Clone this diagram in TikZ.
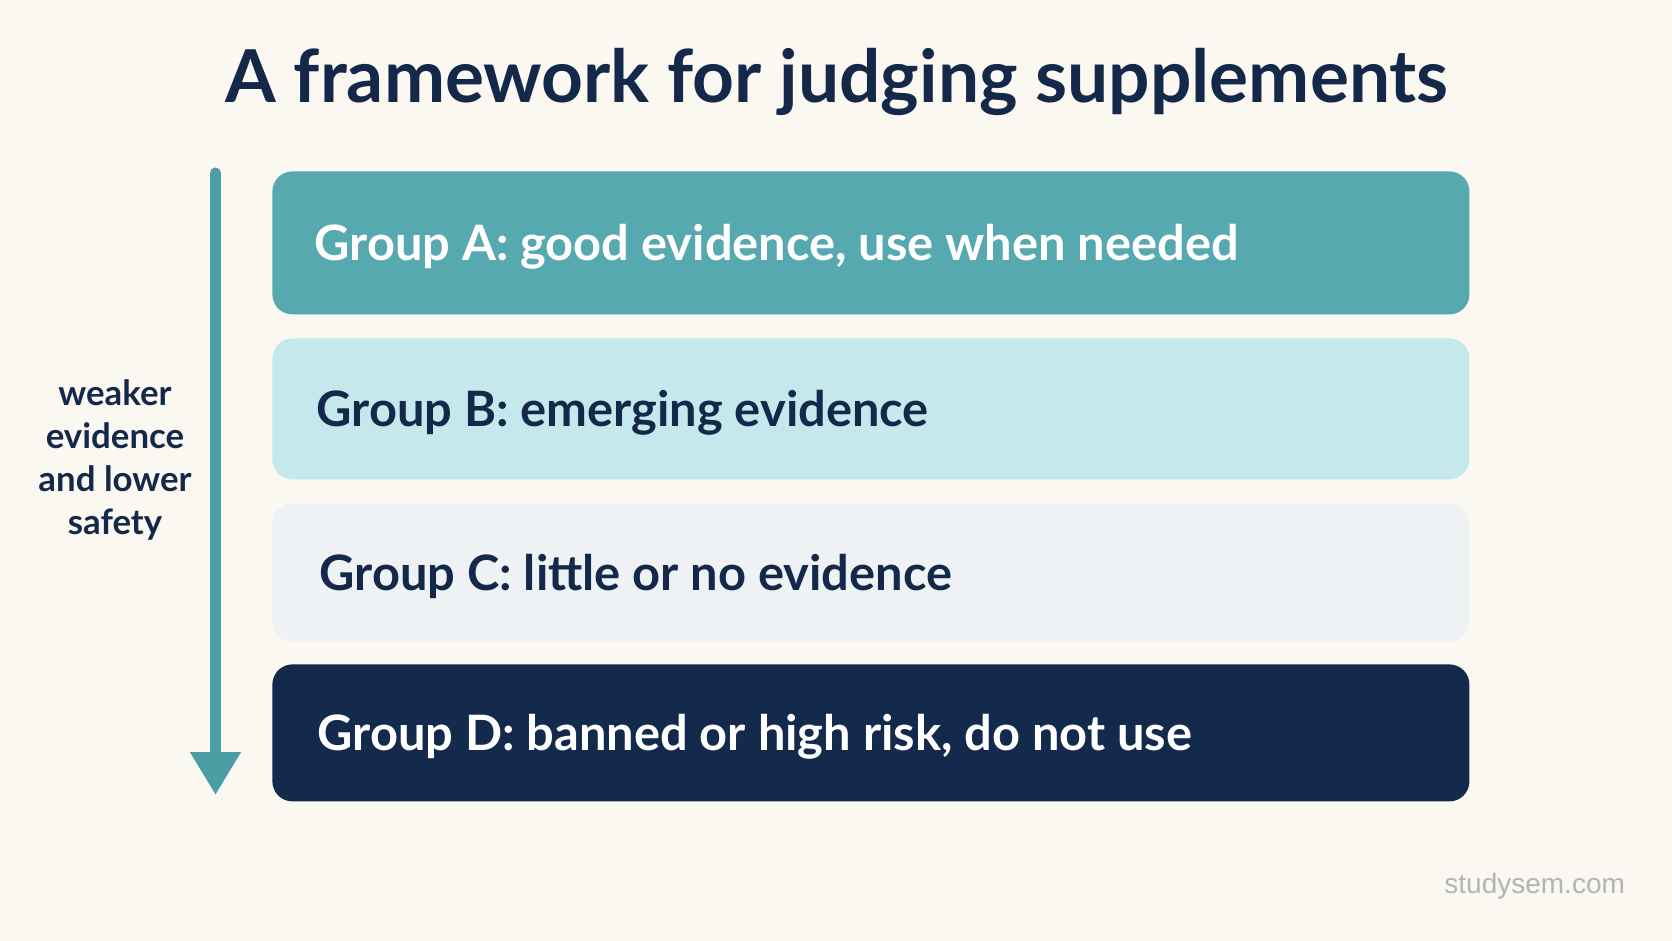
\documentclass[tikz,border=0pt]{standalone}
\usepackage{fontspec}
\setmainfont{Lato}
\newfontfamily\wmfont{Liberation Sans}
\usetikzlibrary{arrows.meta}
\definecolor{bgc}{HTML}{FBF8F1}
\definecolor{navy}{HTML}{14294A}
\definecolor{teal}{HTML}{55A9AF}
\definecolor{lightteal}{HTML}{C5E8EC}
\definecolor{pale}{HTML}{EEF2F5}
\definecolor{dark}{HTML}{132A4C}
\definecolor{arrowc}{HTML}{4A9EA4}
\definecolor{wmgray}{HTML}{B0B5BA}
\tikzset{
  groupbox/.style={rectangle, rounded corners=10pt, draw=none, anchor=north west,
    minimum width=598.5pt, inner sep=0pt},
  grouptext/.style={anchor=base west, inner sep=0pt, font=\fontsize{24.4}{30}\selectfont\bfseries},
  sidelabel/.style={align=center, inner sep=0pt, text=navy,
    font=\fontsize{17.4}{21.5}\selectfont\bfseries},
}
\begin{document}
\begin{tikzpicture}[x=0.5pt,y=-0.5pt]
\fill[bgc] (0,0) rectangle (1672,941);
\useasboundingbox (0,0) rectangle (1672,941);
% title
\node[anchor=base, inner sep=0pt, text=navy, font=\fontsize{36.5}{44}\selectfont\bfseries] (title) at (837,103) {A framework for judging supplements};
% boxes
\node[groupbox, fill=teal, minimum height=71.5pt] (ga) at (272,171) {};
\node[groupbox, fill=lightteal, minimum height=70.5pt] (gb) at (272,338) {};
\node[groupbox, fill=pale, minimum height=69pt] (gc) at (272,503) {};
\node[groupbox, fill=dark, minimum height=68.5pt] (gd) at (272,664) {};
\node[grouptext, text=white] (ta) at (314,260.5) {Group A: good evidence, use when needed};
\node[grouptext, text=navy] (tb) at (316,426.5) {Group B: emerging evidence};
\node[grouptext, text=navy] (tc) at (319,590) {Group C: little or no evidence};
\node[grouptext, text=white] (td) at (317,750.5) {Group D: banned or high risk, do not use};
% arrow
\coordinate (arrtop) at (215.5,173);
\coordinate (arrtip) at (215.5,795);
\draw[arrowc, line width=5.5pt, line cap=round, -{Triangle[width=24pt, length=21.5pt]}] (arrtop) -- (arrtip);
% side label
\node[sidelabel] (lab) at (115,460) {weaker\\evidence\\and lower\\safety};
% watermark
\node[anchor=base west, inner sep=0pt, text=wmgray, font=\fontsize{14}{16}\selectfont\wmfont] (wm) at (1444,893) {studysem.com};
\end{tikzpicture}
\end{document}
